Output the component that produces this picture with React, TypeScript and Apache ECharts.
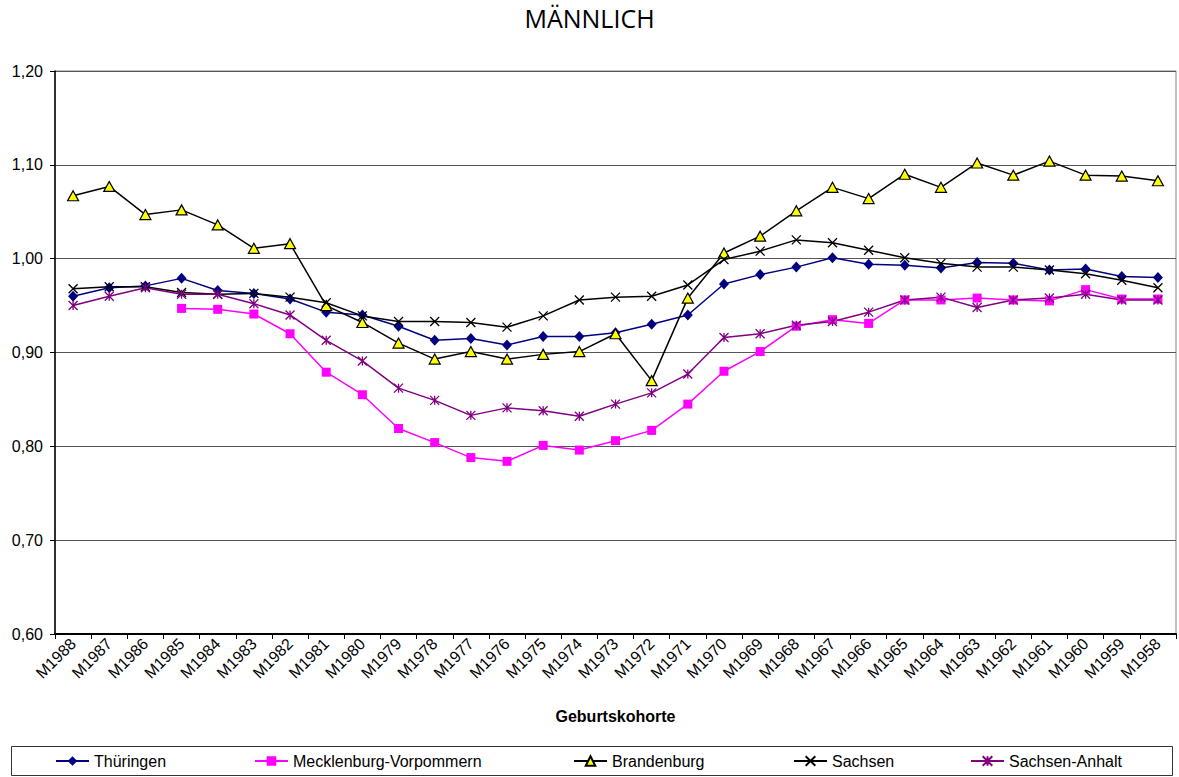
import React, { useEffect, useRef } from "react";
import * as echarts from "echarts";

const categories = [
  "M1988", "M1987", "M1986", "M1985", "M1984", "M1983", "M1982", "M1981", "M1980", "M1979",
  "M1978", "M1977", "M1976", "M1975", "M1974", "M1973", "M1972", "M1971", "M1970", "M1969",
  "M1968", "M1967", "M1966", "M1965", "M1964", "M1963", "M1962", "M1961", "M1960", "M1959", "M1958",
];

const thueringen = [
  0.960, 0.969, 0.971, 0.979, 0.966, 0.963, 0.957, 0.943, 0.940, 0.928,
  0.913, 0.915, 0.908, 0.917, 0.917, 0.921, 0.930, 0.940, 0.973, 0.983,
  0.991, 1.001, 0.994, 0.993, 0.990, 0.996, 0.995, 0.988, 0.989, 0.981, 0.980,
];

const mecklenburg = [
  null, null, null, 0.947, 0.946, 0.941, 0.920, 0.879, 0.855, 0.819,
  0.804, 0.788, 0.784, 0.801, 0.796, 0.806, 0.817, 0.845, 0.880, 0.901,
  0.928, 0.935, 0.931, 0.956, 0.956, 0.958, 0.956, 0.955, 0.967, 0.957, 0.957,
];

const brandenburg = [
  1.067, 1.077, 1.047, 1.052, 1.036, 1.011, 1.016, 0.950, 0.932, 0.910,
  0.893, 0.901, 0.893, 0.898, 0.901, 0.920, 0.870, 0.958, 1.006, 1.024,
  1.051, 1.076, 1.064, 1.090, 1.076, 1.102, 1.089, 1.104, 1.089, 1.088, 1.083,
];

const sachsen = [
  0.968, 0.970, 0.970, 0.964, 0.962, 0.963, 0.959, 0.953, 0.939, 0.933,
  0.933, 0.932, 0.927, 0.939, 0.956, 0.959, 0.960, 0.972, 0.999, 1.008,
  1.020, 1.017, 1.009, 1.001, 0.995, 0.991, 0.991, 0.988, 0.984, 0.977, 0.969,
];

const sachsenAnhalt = [
  0.950, 0.960, 0.969, 0.962, 0.962, 0.952, 0.940, 0.913, 0.891, 0.862,
  0.849, 0.833, 0.841, 0.838, 0.832, 0.845, 0.857, 0.877, 0.916, 0.920,
  0.929, 0.933, 0.943, 0.956, 0.959, 0.948, 0.956, 0.958, 0.962, 0.956, 0.956,
];

const seriesNames = ["Thüringen", "Mecklenburg-Vorpommern", "Brandenburg", "Sachsen", "Sachsen-Anhalt"];

const FONT = "'Liberation Sans', Arial, sans-serif";
const X_PATH = "path://M0,0L10,10M10,0L0,10";
const STAR_PATH = "path://M0,0L10,10M10,0L0,10M5,0L5,10";

export default function App() {
  const ref = useRef<HTMLDivElement>(null);

  useEffect(() => {
    document.body.style.margin = "0";
    if (!ref.current) return;
    const chart = echarts.init(ref.current, undefined, { renderer: "svg" });

    const legendLefts = [55, 254, 573, 793, 970];
    const legends = seriesNames.map((name, i) => ({
      data: [name],
      left: legendLefts[i],
      top: 753,
      padding: 0,
      itemWidth: 33,
      itemHeight: 12,
      selectedMode: false,
      textStyle: { fontFamily: FONT, fontSize: 16, color: "#000" },
    }));

    const option: any = {
      animation: false,
      backgroundColor: "#fff",
      title: {
        text: "MÄNNLICH",
        left: "center",
        top: 5,
        padding: 0,
        textStyle: {
          fontFamily: "'Open Sans', sans-serif",
          fontSize: 25,
          fontWeight: "normal",
          color: "#000",
        },
      },
      legend: legends,
      graphic: [
        {
          type: "rect",
          shape: { x: 11.5, y: 746.5, width: 1161, height: 29 },
          style: { fill: "none", stroke: "#333", lineWidth: 1 },
          silent: true,
        },
      ],
      grid: {
        left: 55,
        right: 3,
        top: 71,
        bottom: 143,
        show: true,
        borderColor: "#808080",
        borderWidth: 1,
        containLabel: false,
      },
      xAxis: {
        type: "category",
        data: categories,
        boundaryGap: true,
        name: "Geburtskohorte",
        nameLocation: "middle",
        nameGap: 74,
        nameTextStyle: { fontFamily: FONT, fontSize: 16, fontWeight: "bold", color: "#000" },
        axisLine: { show: true, lineStyle: { color: "#000", width: 2 } },
        axisTick: { show: true, alignWithLabel: false, length: 5, lineStyle: { color: "#000" } },
        axisLabel: {
          interval: 0,
          rotate: 45,
          margin: 7,
          fontFamily: FONT,
          fontSize: 16,
          color: "#000",
        },
        splitLine: { show: false },
      },
      yAxis: {
        type: "value",
        min: 0.6,
        max: 1.2,
        interval: 0.1,
        axisLine: { show: true, lineStyle: { color: "#000", width: 1.5 } },
        axisTick: { show: true, length: 5, lineStyle: { color: "#000" } },
        axisLabel: {
          margin: 12,
          fontFamily: FONT,
          fontSize: 16,
          color: "#000",
          formatter: (v: number) => v.toFixed(2).replace(".", ","),
        },
        splitLine: { show: true, lineStyle: { color: "#555", width: 1 } },
      },
      series: [
        {
          name: seriesNames[0],
          type: "line",
          data: thueringen,
          symbol: "diamond",
          symbolSize: [10, 11],
          itemStyle: { color: "#000080" },
          lineStyle: { color: "#000080", width: 1.5 },
        },
        {
          name: seriesNames[1],
          type: "line",
          data: mecklenburg,
          symbol: "rect",
          symbolSize: 9,
          itemStyle: { color: "#FF00FF" },
          lineStyle: { color: "#FF00FF", width: 1.5 },
        },
        {
          name: seriesNames[2],
          type: "line",
          data: brandenburg,
          symbol: "triangle",
          symbolSize: [11, 10],
          itemStyle: { color: "#FFFF00", borderColor: "#000", borderWidth: 1.2 },
          lineStyle: { color: "#000", width: 1.5 },
        },
        {
          name: seriesNames[3],
          type: "line",
          data: sachsen,
          symbol: X_PATH,
          symbolSize: 9,
          itemStyle: { color: "transparent", borderColor: "#000", borderWidth: 1.3 },
          lineStyle: { color: "#000", width: 1.5 },
        },
        {
          name: seriesNames[4],
          type: "line",
          data: sachsenAnhalt,
          symbol: STAR_PATH,
          symbolSize: 9,
          itemStyle: { color: "transparent", borderColor: "#800080", borderWidth: 1.3 },
          lineStyle: { color: "#800080", width: 1.5 },
        },
      ],
    };

    chart.setOption(option);
    return () => chart.dispose();
  }, []);

  return (
    <div
      ref={ref}
      style={{ position: "absolute", left: 0, top: 0, width: 1179, height: 777 }}
    />
  );
}
